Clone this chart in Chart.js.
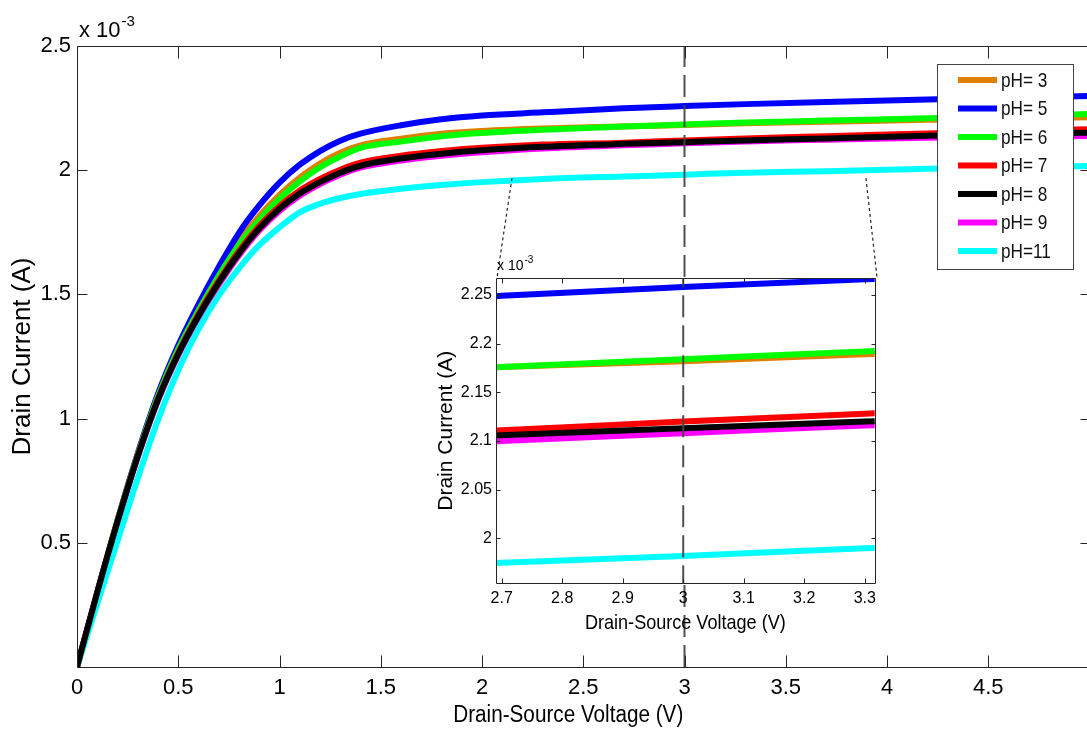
<!DOCTYPE html>
<html>
<head>
<meta charset="utf-8">
<script src="https://cdn.jsdelivr.net/npm/chart.js@4.4.0/dist/chart.umd.min.js"></script>
<style>
  html, body { margin: 0; padding: 0; background: #fff; overflow: hidden; }
  #wrap { position: relative; width: 1087px; height: 733px; overflow: hidden; }
  #main { position: absolute; left: 0; top: 0; }
  #inset { position: absolute; left: 432px; top: 252px; }
</style>
</head>
<body>
<div id="wrap">
  <canvas id="main" width="1092" height="733"></canvas>
  <canvas id="inset" width="450" height="385"></canvas>
</div>
<script>
// drain-source voltage (V)
const voltage = [0, 0.1, 0.2, 0.3, 0.4, 0.5, 0.6, 0.7, 0.8, 0.9, 1.0, 1.1, 1.2, 1.3, 1.4, 1.6, 1.8, 2.0, 2.3, 2.7, 3.0, 3.3, 3.7, 4.2, 4.6, 5.0]

// drain current, x 10^-3 A
const idsPH3  = [0, 0.300, 0.590, 0.857, 1.093, 1.285, 1.443, 1.585, 1.712, 1.815, 1.900, 1.970, 2.027, 2.070, 2.100, 2.127, 2.147, 2.158, 2.168, 2.176, 2.182, 2.189, 2.195, 2.203, 2.208, 2.213]
const idsPH5  = [0, 0.300, 0.590, 0.860, 1.100, 1.295, 1.460, 1.610, 1.748, 1.858, 1.950, 2.022, 2.077, 2.119, 2.147, 2.181, 2.205, 2.220, 2.233, 2.249, 2.258, 2.266, 2.275, 2.285, 2.292, 2.299]
const idsPH6  = [0, 0.300, 0.590, 0.855, 1.090, 1.280, 1.435, 1.575, 1.700, 1.800, 1.885, 1.955, 2.012, 2.055, 2.090, 2.115, 2.137, 2.150, 2.163, 2.176, 2.184, 2.192, 2.200, 2.209, 2.217, 2.226]
const idsPH7  = [0, 0.300, 0.585, 0.850, 1.080, 1.265, 1.420, 1.555, 1.675, 1.775, 1.855, 1.918, 1.965, 2.002, 2.030, 2.058, 2.077, 2.090, 2.103, 2.111, 2.120, 2.128, 2.137, 2.148, 2.157, 2.165]
const idsPH8  = [0, 0.300, 0.585, 0.848, 1.076, 1.260, 1.413, 1.547, 1.665, 1.765, 1.845, 1.906, 1.952, 1.990, 2.018, 2.047, 2.066, 2.080, 2.094, 2.106, 2.113, 2.120, 2.128, 2.139, 2.146, 2.151]
const idsPH9  = [0, 0.298, 0.582, 0.845, 1.072, 1.255, 1.406, 1.539, 1.657, 1.757, 1.836, 1.897, 1.944, 1.982, 2.010, 2.039, 2.058, 2.072, 2.087, 2.100, 2.108, 2.116, 2.123, 2.131, 2.135, 2.138]
const idsPH11 = [0, 0.255, 0.508, 0.760, 0.995, 1.195, 1.360, 1.495, 1.605, 1.698, 1.770, 1.830, 1.865, 1.888, 1.904, 1.925, 1.940, 1.952, 1.965, 1.975, 1.982, 1.990, 1.996, 2.006, 2.012, 2.017]

const phLabels = ['pH= 3', 'pH= 5', 'pH= 6', 'pH= 7', 'pH= 8', 'pH= 9', 'pH=11']
const phColors = ['#df7f00', '#0000ff', '#00ff00', '#ff0000', '#000000', '#ff00ff', '#00ffff']
const drawOrder = [7, 6, 5, 4, 1, 3, 2]   // lower = drawn on top

// axis ticks
const mainXTicks = [0, 0.5, 1, 1.5, 2, 2.5, 3, 3.5, 4, 4.5]
const mainYTicks = [0.5, 1, 1.5, 2, 2.5]
const insetXTicks = [2.7, 2.8, 2.9, 3.0, 3.1, 3.2, 3.3]
const insetYTicks = [2.0, 2.05, 2.1, 2.15, 2.2, 2.25]

// dashed marker at Vds = 3 V, dotted links from main curves to the inset
const markerVoltage = 3
const zoomLinkLeft  = [{x: 2.148, y: 1.968}, {x: 2.074, y: 1.566}]
const zoomLinkRight = [{x: 3.896, y: 1.968}, {x: 3.951, y: 1.566}]

const FONT = "'Liberation Sans', Arial, sans-serif"
const fmt = v => String(Math.round(v * 100) / 100)

const curveSets = [idsPH3, idsPH5, idsPH6, idsPH7, idsPH8, idsPH9, idsPH11]

function curveDatasets() {
    return curveSets.map((ys, i) => ({
        label: phLabels[i],
        data: voltage.map((v, k) => ({x: v, y: ys[k]})),
        borderColor: phColors[i],
        borderWidth: 6,
        pointRadius: 0,
        showLine: true,
        fill: false,
        cubicInterpolationMode: 'monotone',
        order: drawOrder[i]
    }))
}

function markerDataset(y0, y1) {
    return {
        label: 'marker',
        data: [{x: markerVoltage, y: y0}, {x: markerVoltage, y: y1}],
        borderColor: 'rgba(70,70,70,0.95)',
        borderWidth: 2,
        borderDash: [22, 8],
        pointRadius: 0,
        showLine: true,
        order: 0
    }
}

function linkDataset(pts) {
    return {
        label: 'link',
        data: pts,
        borderColor: '#222',
        borderWidth: 1.2,
        borderDash: [3, 3],
        pointRadius: 0,
        showLine: true,
        order: 0
    }
}

// condensed text, the original figure is squeezed sideways
function narrowText(ctx, text, x, y, size, squeeze, align) {
    ctx.save()
    ctx.font = size + 'px ' + FONT
    ctx.textAlign = align
    ctx.textBaseline = 'middle'
    ctx.translate(x, y)
    ctx.scale(squeeze, 1)
    ctx.fillText(text, 0, 0)
    ctx.restore()
}

// MATLAB style box with inward ticks and the x 10^-3 exponent
const framePlugin = {
    id: 'frame',
    beforeDatasetsDraw(chart, args, opts) {
        if (!opts.fillArea) return
        const {ctx, chartArea: a} = chart
        ctx.save()
        ctx.fillStyle = '#fff'
        ctx.fillRect(a.left, a.top, a.width, a.height)
        ctx.restore()
    },
    afterDraw(chart, args, opts) {
        const {ctx, chartArea: a, scales} = chart
        ctx.save()
        ctx.strokeStyle = '#262626'
        ctx.lineWidth = 1
        const L = Math.round(a.left) + 0.5, R = Math.round(a.right) + 0.5
        const T = Math.round(a.top) + 0.5, B = Math.round(a.bottom) + 0.5
        ctx.beginPath()
        ctx.moveTo(L, T); ctx.lineTo(R, T); ctx.lineTo(R, B); ctx.lineTo(L, B); ctx.closePath()
        scales.x.ticks.forEach(t => {
            const px = Math.round(scales.x.getPixelForValue(t.value)) + 0.5
            ctx.moveTo(px, B); ctx.lineTo(px, B - opts.xTick)
            ctx.moveTo(px, T); ctx.lineTo(px, T + opts.xTick)
        })
        scales.y.ticks.forEach(t => {
            const py = Math.round(scales.y.getPixelForValue(t.value)) + 0.5
            ctx.moveTo(L, py); ctx.lineTo(L + opts.yTick, py)
            ctx.moveTo(R, py); ctx.lineTo(R - opts.yTick, py)
        })
        ctx.stroke()

        ctx.fillStyle = '#000'
        ctx.textBaseline = 'alphabetic'
        ctx.font = opts.expSize + 'px ' + FONT
        ctx.fillText('x 10', a.left + opts.expDx, a.top - opts.expDy)
        const w = ctx.measureText('x 10').width
        ctx.font = Math.round(opts.expSize * 0.68) + 'px ' + FONT
        ctx.fillText('-3', a.left + opts.expDx + w + 1, a.top - opts.expDy - opts.expSize * 0.5)

        if (opts.xTitle) {
            // main x label sits a little left of the axis centre in the original
            const t = opts.xTitle
            narrowText(ctx, t.text, (a.left + a.right) / 2 + t.dx, chart.height - t.fromBottom, t.size, t.squeeze, 'center')
        }
        ctx.restore()
    }
}

const legendPlugin = {
    id: 'boxLegend',
    afterDraw(chart, args, opts) {
        if (!opts.show) return
        const {ctx} = chart
        ctx.save()
        ctx.fillStyle = '#fff'
        ctx.fillRect(opts.x, opts.y, opts.w, opts.h)
        ctx.strokeStyle = '#444'
        ctx.lineWidth = 1
        ctx.strokeRect(opts.x + 0.5, opts.y + 0.5, opts.w, opts.h)
        phLabels.forEach((lab, i) => {
            const yy = opts.y + opts.first + i * opts.step
            ctx.strokeStyle = phColors[i]
            ctx.lineWidth = 6
            ctx.beginPath()
            ctx.moveTo(opts.x + 21, yy)
            ctx.lineTo(opts.x + 60, yy)
            ctx.stroke()
            ctx.fillStyle = '#111'
            narrowText(ctx, lab, opts.x + 64, yy + 1, opts.fontSize, opts.squeeze, 'left')
        })
        ctx.restore()
    }
}

function axisOpts(cfg) {
    return {
        type: 'linear',
        min: cfg.min,
        max: cfg.max,
        grid: {display: false, drawTicks: false},
        border: {display: false},
        afterBuildTicks: s => { s.ticks = cfg.ticks.map(v => ({value: v})) },
        afterFit: s => { if (cfg.width) s.width = cfg.width; if (cfg.height) s.height = cfg.height },
        ticks: {
            autoSkip: false, maxRotation: 0, minRotation: 0,
            color: '#000', padding: cfg.pad,
            font: {family: FONT, size: cfg.tickSize},
            callback: v => fmt(v)
        },
        title: {
            display: !!cfg.title, text: cfg.title || '', color: '#000',
            font: {family: FONT, size: cfg.titleSize},
            padding: cfg.titlePad
        }
    }
}

new Chart(document.getElementById('main'), {
    type: 'scatter',
    data: {
        datasets: [
            ...curveDatasets(),
            markerDataset(0, 2.5),
            linkDataset(zoomLinkLeft),
            linkDataset(zoomLinkRight)
        ]
    },
    options: {
        responsive: false,
        animation: false,
        devicePixelRatio: 1,
        layout: {padding: {left: 0, top: 46, right: 2.5, bottom: 0}},
        plugins: {
            legend: {display: false},
            tooltip: {enabled: false},
            frame: {xTick: 12, yTick: 10, expSize: 22, expDx: 2, expDy: 9,
                xTitle: {text: 'Drain-Source Voltage (V)', size: 23, squeeze: 0.9, dx: -15, fromBottom: 17}},
            boxLegend: {show: true, x: 937, y: 64, w: 136, h: 205, first: 16, step: 28.5, fontSize: 21, squeeze: 0.82}
        },
        scales: {
            x: axisOpts({min: 0, max: 5, ticks: mainXTicks, height: 66, pad: 8, tickSize: 22}),
            y: axisOpts({min: 0, max: 2.5, ticks: mainYTicks, width: 77, pad: 6, tickSize: 22,
                title: 'Drain Current (A)', titleSize: 26, titlePad: {top: 7, bottom: 0}})
        }
    },
    plugins: [framePlugin, legendPlugin]
})

new Chart(document.getElementById('inset'), {
    type: 'scatter',
    data: {
        datasets: [...curveDatasets(), markerDataset(1.95, 2.27)]
    },
    options: {
        responsive: false,
        animation: false,
        devicePixelRatio: 1,
        layout: {padding: {left: 0, top: 26.3, right: 4.7, bottom: 0}},
        plugins: {
            legend: {display: false},
            tooltip: {enabled: false},
            frame: {xTick: 5, yTick: 4, expSize: 14, expDx: 1, expDy: 8, fillArea: true,
                xTitle: {text: 'Drain-Source Voltage (V)', size: 21, squeeze: 0.86, dx: 0, fromBottom: 14}},
            boxLegend: {show: false}
        },
        scales: {
            x: axisOpts({min: 2.6906, max: 3.3164, ticks: insetXTicks, height: 53.7, pad: 6, tickSize: 16}),
            y: axisOpts({min: 1.954, max: 2.267, ticks: insetYTicks, width: 64, pad: 4, tickSize: 16,
                title: 'Drain Current (A)', titleSize: 21, titlePad: {top: 1.4, bottom: 0}})
        }
    },
    plugins: [framePlugin, legendPlugin]
})
</script>
</body>
</html>
